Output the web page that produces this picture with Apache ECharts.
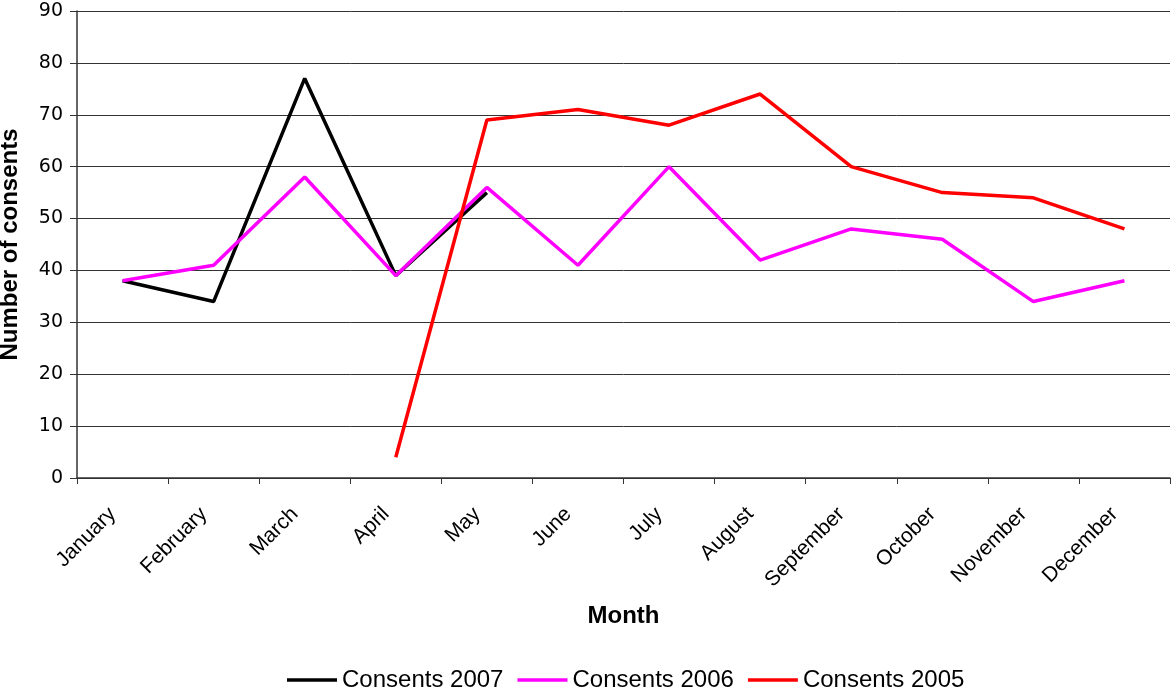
<!DOCTYPE html>
<html>
<head>
<meta charset="utf-8">
<script src="https://cdn.jsdelivr.net/npm/echarts@6/dist/echarts.min.js"></script>
<style>
html,body{margin:0;padding:0;background:#fff;}
#chart{width:1176px;height:692px;}
</style>
</head>
<body>
<div id="chart"></div>
<script>
// Monthly consents per year
const months = ['January','February','March','April','May','June','July','August','September','October','November','December'];
const consents2007 = [38, 34, 77, 39, 55, null, null, null, null, null, null, null];
const consents2006 = [38, 41, 58, 39, 56, 41, 60, 42, 48, 46, 34, 38];
const consents2005 = [null, null, null, 4, 69, 71, 68, 74, 60, 55, 54, 48];
const yTicks = [0, 10, 20, 30, 40, 50, 60, 70, 80, 90];

const sans = 'Liberation Sans, Arial, sans-serif';
const wide = 'DejaVu Sans, Liberation Sans, sans-serif';
const chart = echarts.init(document.getElementById('chart'));

function line(name, data, color) {
  return {
    name: name, type: 'line', data: data, color: color,
    showSymbol: false, symbol: 'none',
    lineStyle: { width: 3.5, color: color },
    connectNulls: false, animation: false
  };
}

chart.setOption({
  animation: false,
  grid: { left: 77, right: 6, top: 11, bottom: 214, containLabel: false, outerBoundsMode: 'none' },
  legend: {
    top: 663, left: 282,
    itemWidth: 50, itemHeight: 3.5, itemGap: 14,
    icon: 'rect',
    textStyle: { fontFamily: sans, fontSize: 24, color: '#000' },
    data: ['Consents 2007', 'Consents 2006', 'Consents 2005']
  },
  xAxis: {
    type: 'category', data: months, boundaryGap: true,
    name: 'Month', nameLocation: 'middle', nameGap: 126,
    nameTextStyle: { fontFamily: sans, fontSize: 24, fontWeight: 'bold', color: '#000' },
    axisLine: { lineStyle: { color: '#333', width: 1.5 } },
    axisTick: { show: true, length: 6, lineStyle: { color: '#333' } },
    axisLabel: { rotate: 45, interval: 0, margin: 23, padding: [0, 14, 0, 0], fontFamily: sans, fontSize: 21, color: '#000' }
  },
  yAxis: {
    type: 'value', min: yTicks[0], max: yTicks[yTicks.length - 1], interval: 10,
    name: 'Number of consents', nameLocation: 'middle', nameGap: 55, nameRotate: 90,
    nameTextStyle: { fontFamily: sans, fontSize: 24, fontWeight: 'bold', color: '#000' },
    axisLine: { show: true, lineStyle: { color: '#333', width: 1.5 } },
    axisTick: { show: true, length: 7, lineStyle: { color: '#333' } },
    axisLabel: { margin: 14, fontFamily: wide, fontSize: 19, color: '#000' },
    splitLine: { lineStyle: { color: '#333', width: 1 } }
  },
  series: [
    line('Consents 2007', consents2007, '#000000'),
    line('Consents 2006', consents2006, '#ff00ff'),
    line('Consents 2005', consents2005, '#ff0000')
  ]
});
</script>
</body>
</html>
